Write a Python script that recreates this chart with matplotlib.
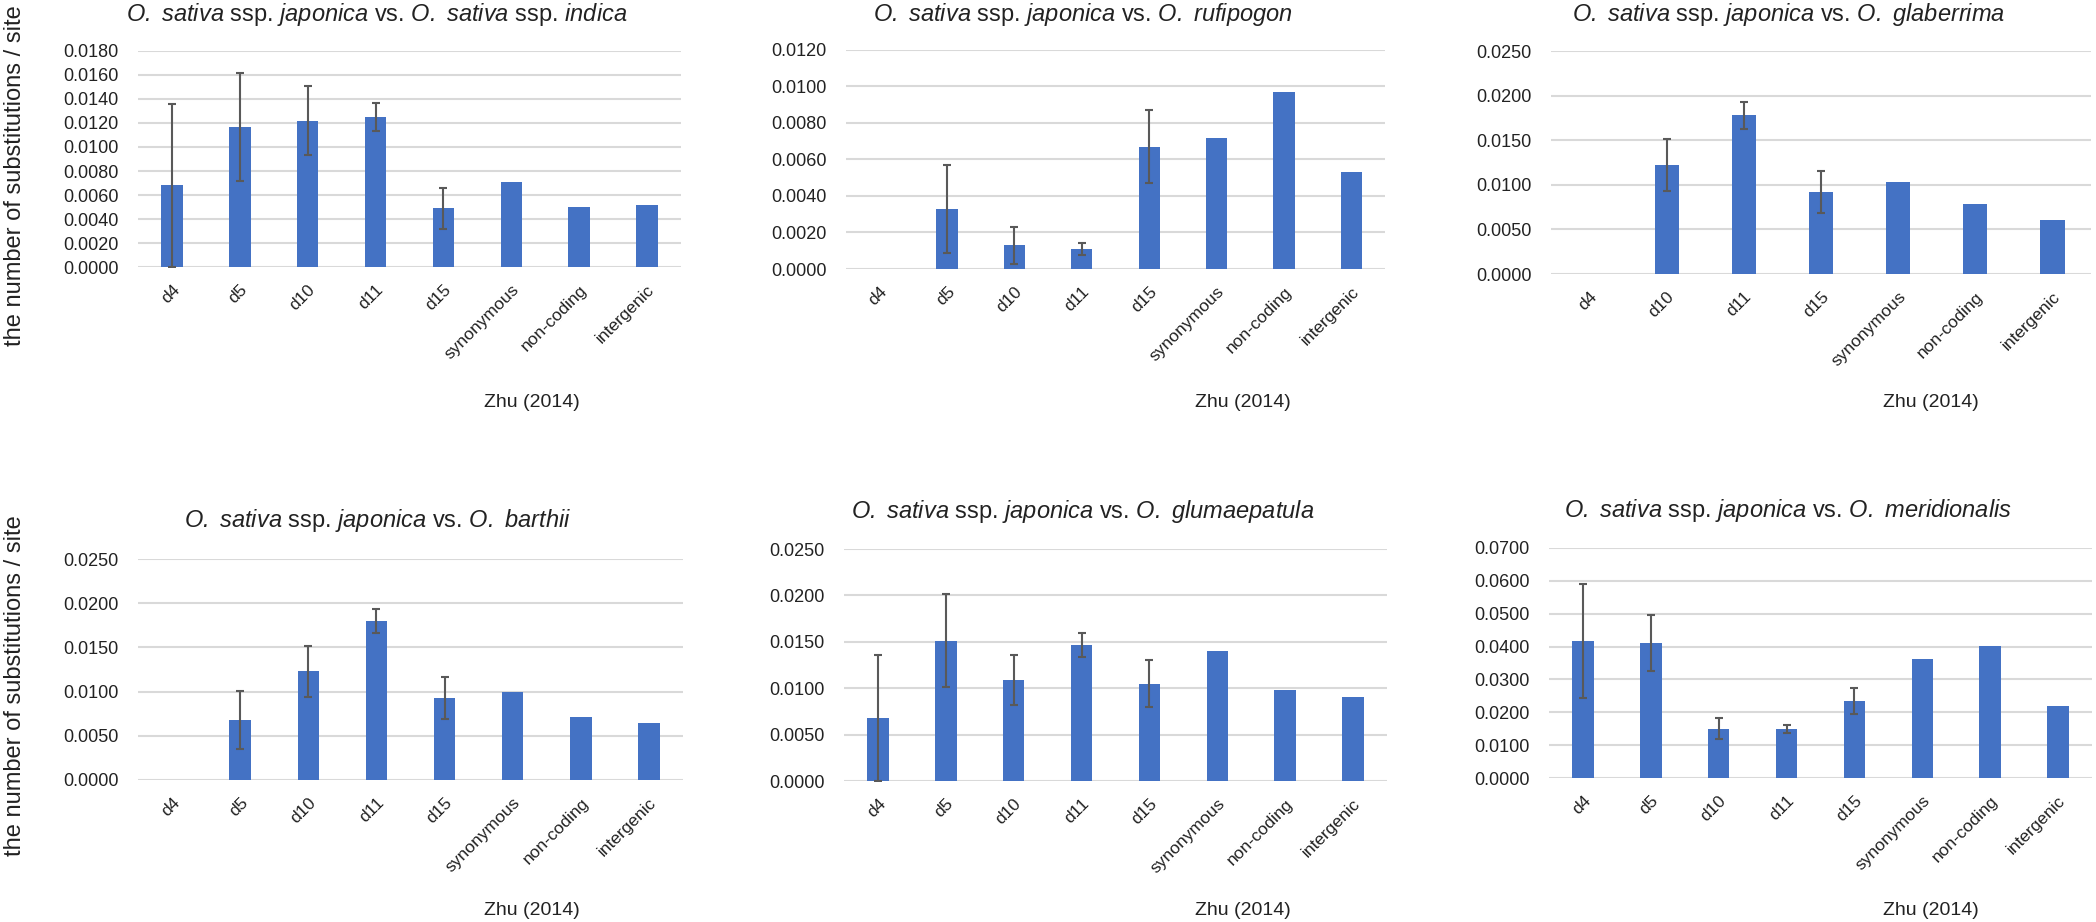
import numpy as np
import matplotlib
matplotlib.use("Agg")
import matplotlib.pyplot as plt

plt.rcParams['font.family'] = ['Liberation Sans', 'DejaVu Sans']
plt.rcParams['mathtext.fontset'] = 'custom'
plt.rcParams['mathtext.rm'] = 'Liberation Sans:italic'
plt.rcParams['mathtext.it'] = 'Liberation Sans:italic'

cats8 = ["d4", "d5", "d10", "d11", "d15", "synonymous", "non-coding", "intergenic"]
cats7 = ["d4", "d10", "d11", "d15", "synonymous", "non-coding", "intergenic"]

nan = np.nan
# O. sativa ssp. japonica vs. O. sativa ssp. indica
indica_vals = [0.0068, 0.0117, 0.0122, 0.0125, 0.0049, 0.0071, 0.0050, 0.0052]
indica_err = [0.0068, 0.0045, 0.0029, 0.0012, 0.0017, nan, nan, nan]
# vs. O. rufipogon
rufi_vals = [nan, 0.0033, 0.0013, 0.0011, 0.0067, 0.0072, 0.0097, 0.0053]
rufi_err = [nan, 0.0024, 0.0010, 0.00035, 0.0020, nan, nan, nan]
# vs. O. glaberrima (7 categories)
glab_vals = [nan, 0.0122, 0.0178, 0.0092, 0.0103, 0.0079, 0.0060]
glab_err = [nan, 0.0029, 0.0015, 0.0024, nan, nan, nan]
# vs. O. barthii
barth_vals = [nan, 0.0068, 0.0123, 0.0180, 0.0093, 0.0099, 0.0071, 0.0064]
barth_err = [nan, 0.0033, 0.0029, 0.0014, 0.0024, nan, nan, nan]
# vs. O. glumaepatula
glum_vals = [0.0068, 0.0151, 0.0109, 0.0147, 0.0105, 0.0140, 0.0098, 0.0091]
glum_err = [0.0068, 0.0050, 0.0027, 0.0013, 0.0025, nan, nan, nan]
# vs. O. meridionalis
meri_vals = [0.0417, 0.0411, 0.0150, 0.0150, 0.0234, 0.0362, 0.0401, 0.0219]
meri_err = [0.0172, 0.0085, 0.0032, 0.0012, 0.0040, nan, nan, nan]

titles = [
    r"$O.\ sativa$ ssp. $japonica$ vs. $O.\ sativa$ ssp. $indica$",
    r"$O.\ sativa$ ssp. $japonica$ vs. $O.\ rufipogon$",
    r"$O.\ sativa$ ssp. $japonica$ vs. $O.\ glaberrima$",
    r"$O.\ sativa$ ssp. $japonica$ vs. $O.\ barthii$",
    r"$O.\ sativa$ ssp. $japonica$ vs. $O.\ glumaepatula$",
    r"$O.\ sativa$ ssp. $japonica$ vs. $O.\ meridionalis$",
]
ylims = [0.018, 0.012, 0.025, 0.025, 0.025, 0.070]
ysteps = [0.002, 0.002, 0.005, 0.005, 0.005, 0.010]
xlabel = "Zhu (2014)"
ylabel = "the number of substitutions / site"

W, H = 2096, 922
fig = plt.figure(figsize=(W / 100, H / 100), dpi=100)

# axes boxes in pixels: x0, x1, ytop, ybottom
boxes = [
    (138, 681, 51, 267),
    (846, 1385, 50, 269),
    (1551, 2091, 51, 274),
    (138, 683, 559, 780),
    (844, 1387, 549, 781),
    (1549, 2092, 548, 778),
]
# title centre x, baseline y
title_pos = [(377, 21), (1083, 21), (1789, 21), (378, 527), (1083, 518), (1788, 517)]
# x-label centre x, baseline y
xlab_pos = [(532, 407), (1243, 407), (1931, 407), (532, 915), (1243, 915), (1931, 915)]

data = [
    (cats8, indica_vals, indica_err),
    (cats8, rufi_vals, rufi_err),
    (cats7, glab_vals, glab_err),
    (cats8, barth_vals, barth_err),
    (cats8, glum_vals, glum_err),
    (cats8, meri_vals, meri_err),
]

bar_color = "#4472C4"
text_color = "#222222"

for i, ((cats, vals, errs), box) in enumerate(zip(data, boxes)):
    x0, x1, yt, yb = box
    ax = fig.add_axes([x0 / W, 1 - yb / H, (x1 - x0) / W, (yb - yt) / H])
    x = np.arange(len(cats))
    vals_a = np.array(vals, dtype=float)
    errs_a = np.array(errs, dtype=float)
    ax.bar(x, np.nan_to_num(vals_a), width=0.315, color=bar_color, zorder=2)
    mask = ~np.isnan(errs_a)
    ax.errorbar(x[mask], vals_a[mask], yerr=errs_a[mask], fmt='none',
                ecolor="#595959", elinewidth=1.5, capsize=3, capthick=1.5, zorder=3)
    ax.set_xlim(-0.5, len(cats) - 0.5)
    ax.set_ylim(0, ylims[i])
    ax.set_yticks(np.arange(0, ylims[i] + ysteps[i] / 2, ysteps[i]))
    ax.yaxis.set_major_formatter(matplotlib.ticker.FormatStrFormatter('%.4f'))
    ax.set_xticks(x)
    ax.set_xticklabels(cats, rotation=45, ha='right', va='top', rotation_mode='anchor')
    ax.tick_params(axis='y', length=0, labelsize=13, colors=text_color, pad=14)
    ax.tick_params(axis='x', length=0, labelsize=12.5, colors=text_color, pad=11)
    for s in ax.spines.values():
        s.set_visible(False)
    ax.grid(axis='y', color="#D9D9D9", linewidth=1.5, zorder=0)
    ax.set_axisbelow(True)
    tx, ty = title_pos[i]
    fig.text(tx / W, 1 - ty / H, titles[i], ha='center', va='baseline', fontsize=17, color=text_color)
    lx, ly = xlab_pos[i]
    fig.text(lx / W, 1 - ly / H, xlabel, ha='center', va='baseline', fontsize=14, color=text_color)

fig.text(15 / W, 1 - 176 / H, ylabel, rotation=90, ha='center', va='center', fontsize=17, color=text_color)
fig.text(15 / W, 1 - 686 / H, ylabel, rotation=90, ha='center', va='center', fontsize=17, color=text_color)

fig.savefig("out.png", dpi=100, facecolor="white")
